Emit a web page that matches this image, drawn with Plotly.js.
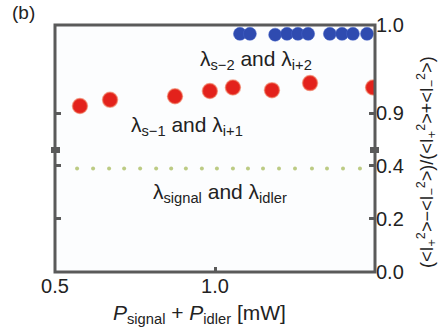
<!DOCTYPE html>
<html>
<head>
<meta charset="utf-8">
<script src="https://cdn.plot.ly/plotly-3.0.1.min.js"></script>
<style>html,body{margin:0;padding:0;background:#fff;}#chart{width:443px;height:331px;}</style>
</head>
<body>
<div id="chart"></div>
<script>
// Data
const xRed = [0.578, 0.672, 0.875, 0.984, 1.056, 1.178, 1.297, 1.494];
const yRed = [0.908, 0.915, 0.919, 0.925, 0.929, 0.926, 0.934, 0.929];
const xBlue = [1.078, 1.109, 1.188, 1.225, 1.259, 1.291, 1.359, 1.397, 1.431, 1.475];
const yBlue = [0.990, 0.990, 0.989, 0.990, 0.990, 0.990, 0.990, 0.990, 0.990, 0.990];
const xGreen = [0.569, 0.619, 0.669, 0.716, 0.766, 0.816, 0.863, 0.909, 0.959, 1.006, 1.056, 1.103, 1.150, 1.200, 1.250, 1.303, 1.350, 1.400, 1.453];
const yGreen = [0.39, 0.39, 0.39, 0.39, 0.39, 0.39, 0.39, 0.39, 0.39, 0.39, 0.39, 0.39, 0.39, 0.39, 0.39, 0.39, 0.39, 0.39, 0.39];
const xTickVals = [0.5, 1.0];
const xTickText = ['0.5', '1.0'];
const yLowTicks = [0.0, 0.2, 0.4];
const yLowText = ['0.0', '0.2', '0.4'];
const yHighTicks = [0.9, 1.0];
const yHighText = ['0.9', '1.0'];

const FONT = 'Liberation Sans, Arial, sans-serif';
const AX = '#5a5a5a';
const TXT = '#222';

const traces = [
  {x: xGreen, y: yGreen, yaxis: 'y', type: 'scatter', mode: 'markers',
   marker: {color: '#bccb84', size: 4}, hoverinfo: 'skip'},
  {x: xRed, y: yRed, yaxis: 'y2', type: 'scatter', mode: 'markers',
   marker: {color: '#e3221c', size: 15, line: {color: 'rgba(240,120,90,0.6)', width: 1.5}}},
  {x: xBlue, y: yBlue, yaxis: 'y2', type: 'scatter', mode: 'markers',
   marker: {color: '#2f4bb0', size: 13, line: {color: 'rgba(70,100,200,0.5)', width: 1}}}
];

const brk = 0.494;
const tf = {size: 20, family: FONT, color: TXT};
const layout = {
  width: 443, height: 331,
  margin: {l: 55, r: 68, t: 25, b: 59},
  paper_bgcolor: '#ffffff', plot_bgcolor: '#fcfdfe',
  showlegend: false,
  font: {family: FONT, size: 20, color: TXT},
  xaxis: {range: [0.5, 1.5], tickvals: xTickVals, ticktext: xTickText,
    ticks: 'inside', ticklen: 5, tickwidth: 3, tickcolor: AX,
    showgrid: false, zeroline: false, showline: false, tickfont: tf},
  yaxis: {domain: [0, brk], range: [0, 0.460], side: 'right',
    tickvals: yLowTicks, ticktext: yLowText,
    ticks: 'inside', ticklen: 6, tickwidth: 3, tickcolor: AX, mirror: 'ticks',
    showgrid: false, zeroline: false, showline: false, tickfont: tf},
  yaxis2: {domain: [brk, 1], range: [0.858, 1.0], side: 'right', anchor: 'x',
    tickvals: yHighTicks, ticktext: yHighText,
    ticks: 'inside', ticklen: 6, tickwidth: 3, tickcolor: AX, mirror: 'ticks',
    showgrid: false, zeroline: false, showline: false, tickfont: tf},
  shapes: [
    {type: 'rect', xref: 'paper', yref: 'paper', x0: 0, x1: 1, y0: 0, y1: 1,
     line: {color: AX, width: 3}},
    {type: 'rect', xref: 'paper', yref: 'paper', x0: -4/320, x1: 5/320, y0: brk - 3/247, y1: brk + 3/247,
     fillcolor: AX, line: {width: 0}},
    {type: 'rect', xref: 'paper', yref: 'paper', x0: 1 - 5/320, x1: 1 + 4/320, y0: brk - 3/247, y1: brk + 3/247,
     fillcolor: AX, line: {width: 0}}
  ],
  annotations: [
    {text: '(b)', xref: 'paper', yref: 'paper', x: -45/320, y: 1 + 12/247,
     xanchor: 'left', yanchor: 'middle', showarrow: false, font: {size: 19, family: FONT, color: TXT}},
    {text: 'λ<sub>s−2</sub> and λ<sub>i+2</sub>', xref: 'paper', yref: 'paper',
     x: (256-55)/320, y: (272-60)/247, xanchor: 'center', yanchor: 'middle', showarrow: false,
     font: {size: 21, family: FONT, color: TXT}},
    {text: 'λ<sub>s−1</sub> and λ<sub>i+1</sub>', xref: 'paper', yref: 'paper',
     x: (187-55)/320, y: (272-126)/247, xanchor: 'center', yanchor: 'middle', showarrow: false,
     font: {size: 21, family: FONT, color: TXT}},
    {text: 'λ<sub>signal</sub> and λ<sub>idler</sub>', xref: 'paper', yref: 'paper',
     x: (220-55)/320, y: (272-193)/247, xanchor: 'center', yanchor: 'middle', showarrow: false,
     font: {size: 21, family: FONT, color: TXT}},
    {text: '<i>P</i><sub>signal</sub> + <i>P</i><sub>idler</sub> [mW]', xref: 'paper', yref: 'paper',
     x: (199-55)/320, y: -(314-272)/247, xanchor: 'center', yanchor: 'middle', showarrow: false,
     font: {size: 21, family: FONT, color: TXT}},
    {text: '(<I<sub>+</sub><sup>2</sup>>−<I<sub>−</sub><sup>2</sup>>)/(<I<sub>+</sub><sup>2</sup>>+<I<sub>−</sub><sup>2</sup>>)',
     xref: 'paper', yref: 'paper', x: (426-55)/320, y: (272-162)/247, textangle: -90,
     xanchor: 'center', yanchor: 'middle', showarrow: false,
     font: {size: 18, family: FONT, color: TXT}}
  ]
};

Plotly.newPlot('chart', traces, layout, {staticPlot: true, displayModeBar: false});
</script>
</body>
</html>
